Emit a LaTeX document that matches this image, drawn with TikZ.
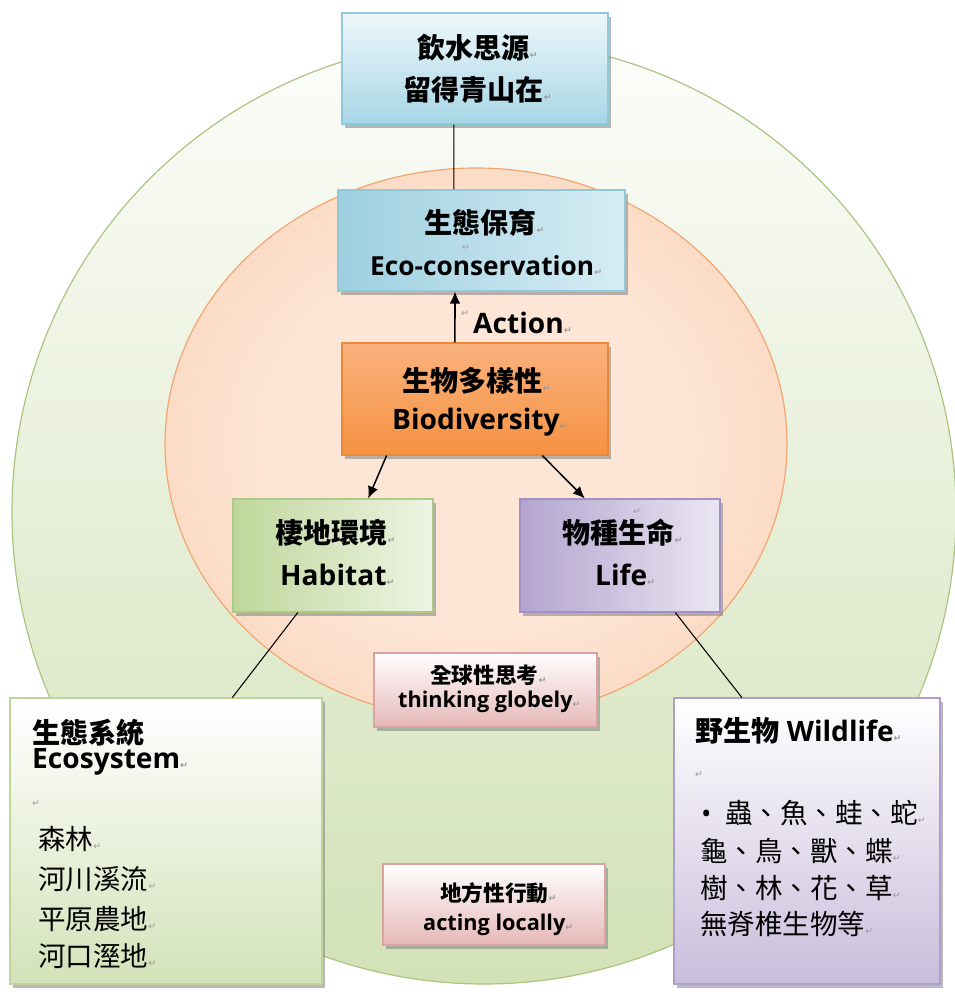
\documentclass[tikz,border=0pt]{standalone}
\usepackage{fontspec}
\setmainfont{Open Sans}
\newfontfamily\cjk{Noto Sans CJK TC}
\newfontfamily\retfont{DejaVu Sans}
\usetikzlibrary{shadows,arrows.meta,calc,fit}
\definecolor{retgray}{HTML}{9A9A9A}
\newcommand\retmark{{\retfont\fontsize{8}{8}\selectfont\textcolor{retgray}{↵}}}
\definecolor{blueedge}{HTML}{8FC9DA}
\definecolor{blueTop}{HTML}{EEF7FB}
\definecolor{blueBot}{HTML}{A7D6E5}
\definecolor{ecoL}{HTML}{9ECFE0}
\definecolor{ecoR}{HTML}{D6EDF4}
\definecolor{bioEdge}{HTML}{E8893A}
\definecolor{bioTop}{HTML}{FAB27D}
\definecolor{bioBot}{HTML}{F59242}
\definecolor{habEdge}{HTML}{ADC986}
\definecolor{habL}{HTML}{BFD79C}
\definecolor{habR}{HTML}{EEF4E3}
\definecolor{lifeEdge}{HTML}{A390C5}
\definecolor{lifeL}{HTML}{B3A4CF}
\definecolor{lifeR}{HTML}{EAE6F2}
\definecolor{pinkEdge}{HTML}{D8A3A2}
\definecolor{pinkBot}{HTML}{E6B8B7}
\definecolor{esEdge}{HTML}{BED49C}
\definecolor{esBot}{HTML}{D3E2B9}
\definecolor{wdEdge}{HTML}{AE9ECA}
\definecolor{wdBot}{HTML}{C9BEDB}
\definecolor{grEdge}{HTML}{A9C47F}
\definecolor{grTop}{HTML}{FCFDFA}
\definecolor{grBot}{HTML}{D2E1B6}
\definecolor{orEdge}{HTML}{F3A570}
\definecolor{orIn}{HTML}{FDE6D6}
\definecolor{orOut}{HTML}{F7BE97}
\pgfdeclareradialshading{orshade}{\pgfpoint{0bp}{0bp}}{color(0bp)=(orIn); color(16bp)=(orIn); color(50bp)=(orOut)}
\tikzset{
  box/.style={draw, line width=0.9pt, inner sep=0pt,
    drop shadow={shadow xshift=2.5pt, shadow yshift=-3pt, fill=black!50, opacity=0.55}},
  srcbox/.style={box, draw=blueedge, top color=blueTop, bottom color=blueBot},
  ecobox/.style={box, draw=blueedge, left color=ecoL, right color=ecoR},
  biobox/.style={box, draw=bioEdge, top color=bioTop, bottom color=bioBot},
  habbox/.style={box, draw=habEdge, left color=habL, right color=habR},
  lifebox/.style={box, draw=lifeEdge, left color=lifeL, right color=lifeR},
  pinkbox/.style={box, draw=pinkEdge, top color=white, bottom color=pinkBot},
  ecosysbox/.style={box, draw=esEdge, top color=white, bottom color=esBot},
  wildbox/.style={box, draw=wdEdge, top color=white, bottom color=wdBot},
  big/.style={anchor=base west, inner sep=0pt, font=\bfseries\fontsize{24}{28}\selectfont},
  bigr/.style={anchor=base west, inner sep=0pt, font=\fontsize{23.5}{28}\selectfont},
  small/.style={anchor=base west, inner sep=0pt, font=\bfseries\fontsize{18.5}{22}\selectfont},
  ret/.style={anchor=base west, inner sep=0pt},
  conn/.style={draw=black, line width=0.9pt},
  arr/.style={draw=black, line width=1.3pt, -{Latex[length=3.6mm,width=3.2mm]}}
}
\begin{document}
\begin{tikzpicture}[x=0.03cm, y=-0.03cm]
\useasboundingbox (0,0) rectangle (955,994);
\clip (0,0) rectangle (955,994);
\fill[white] (0,0) rectangle (955,994);

% circles
\draw[draw=grEdge, line width=1pt, top color=grTop, bottom color=grBot] (484,512) circle [radius=472];
\draw[draw=orEdge, line width=1pt, shading=orshade] (476,444) ellipse [x radius=311, y radius=276];

% boxes
\node[srcbox, fit={(342,13) (608,124)}] (src) {};
\node[ecobox, fit={(338,190) (625,291)}] (eco) {};
\node[biobox, fit={(342,343) (608,455)}] (bio) {};
\node[habbox, fit={(233,499) (433,612)}] (hab) {};
\node[lifebox, fit={(520,499) (720,612)}] (life) {};
\node[pinkbox, fit={(374,653) (597,727)}] (glob) {};
\node[pinkbox, fit={(383,864) (605,945)}] (loc) {};
\node[ecosysbox, fit={(10,698) (322,984)}] (esys) {};
\node[wildbox, fit={(674,698) (940,984)}] (wild) {};

% connectors
\draw[conn] ($(src.south west)!0.421!(src.south east)$) -- ($(eco.north west)!0.404!(eco.north east)$);
\draw[arr] ($(bio.north west)!0.425!(bio.north east)$) -- ($(eco.south west)!0.408!(eco.south east)$);
\draw[arr] ($(bio.south west)!0.169!(bio.south east)$) -- ($(hab.north west)!0.675!(hab.north east)$);
\draw[arr] ($(bio.south west)!0.752!(bio.south east)$) -- ($(life.north west)!0.325!(life.north east)$);
\draw[conn] ($(hab.south west)!0.325!(hab.south east)$) -- ($(esys.north west)!0.712!(esys.north east)$);
\draw[conn] ($(life.south west)!0.775!(life.south east)$) -- ($(wild.north west)!0.256!(wild.north east)$);

% texts
\node[big] (t1) at (417,58) {\cjk 飲水思源\retmark};
\node[big] (t2) at (403,100) {\cjk 留得青山在\retmark};

\node[big] (t3) at (424,233) {\cjk 生態保育\retmark};
\node[ret] (t3r) at (462,250) {\retmark};
\node[big, font=\bfseries\fontsize{22.4}{28}\selectfont] (t4) at (370,275) {Eco-conservation\retmark};

\node[ret] (actr) at (461,316) {\retmark};
\node[big] (act) at (473,333) {Action\retmark};

\node[big] (t5) at (402,391) {\cjk 生物多樣性\retmark};
\node[big] (t6) at (392,429) {Biodiversity\retmark};

\node[big] (t7) at (275,543) {\cjk 棲地環境\retmark};
\node[big] (t8) at (280,585) {Habitat\retmark};

\node[ret] (t9r) at (633,514) {\retmark};
\node[big] (t9) at (562,543) {\cjk 物種生命\retmark};
\node[big] (t10) at (595,585) {Life\retmark};

\node[small] (g1) at (430,683) {\cjk 全球性思考\retmark};
\node[small] (g2) at (398,707) {thinking globely\retmark};

\node[small] (l1) at (440,901) {\cjk 地方性行動\retmark};
\node[small] (l2) at (423,930) {acting locally\retmark};

\node[big] (e1) at (32,743) {\cjk 生態系統};
\node[big] (e2) at (32,768) {Ecosystem\retmark};
\node[ret] (e3) at (32,806) {\retmark};
\node[bigr] (e4) at (38,849) {\cjk 森林\retmark};
\node[bigr] (e5) at (38,889) {\cjk 河川溪流\retmark};
\node[bigr] (e6) at (38,929) {\cjk 平原農地\retmark};
\node[bigr] (e7) at (38,966) {\cjk 河口溼地\retmark};

\node[big] (w1) at (695,741) {{\cjk 野生物} Wildlife\retmark};
\node[ret] (w2) at (695,777) {\retmark};
\node[bigr] (w3b) at (701,823) {•};
\node[bigr] (w3) at (725,823) {\cjk 蟲、魚、蛙、蛇\retmark};
\node[bigr] (w4) at (700,861) {\cjk 龜、鳥、獸、蝶\retmark};
\node[bigr] (w5) at (700,898) {\cjk 樹、林、花、草\retmark};
\node[bigr] (w6) at (700,934) {\cjk 無脊椎生物等\retmark};
\end{tikzpicture}
\end{document}
